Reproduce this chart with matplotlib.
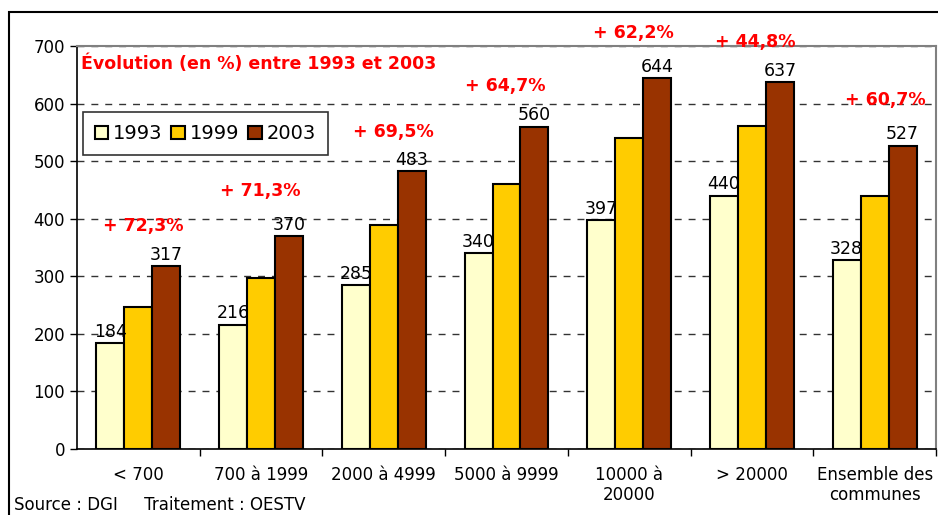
import matplotlib.pyplot as plt
import matplotlib.patches as mpatches
import numpy as np

categories = ['< 700', '700 à 1999', '2000 à 4999', '5000 à 9999',
              '10000 à\n20000', '> 20000', 'Ensemble des\ncommunes']
years = ['1993', '1999', '2003']
v1993 = [184, 216, 285, 340, 397, 440, 328]
v1999 = [247, 297, 389, 461, 540, 561, 440]
v2003 = [317, 370, 483, 560, 644, 637, 527]
evolution = ['+ 72,3%', '+ 71,3%', '+ 69,5%', '+ 64,7%', '+ 62,2%', '+ 44,8%', '+ 60,7%']

# positions des étiquettes d'évolution (en unités du graphique)
evo_x = [0.04, 0.99, 2.08, 2.99, 4.03, 5.03, 6.09]
evo_y = [387, 448, 551, 631, 723, 707, 606]

colors = ['#FFFFCC', '#FFCC00', '#993300']

plt.rcParams['font.family'] = 'DejaVu Sans'

fig = plt.figure(figsize=(9.38, 5.15), dpi=100)
ax = fig.add_axes([77 / 938, 1 - 449 / 515, (936 - 77) / 938, (449 - 46) / 515])

x = np.arange(len(categories))
w = 0.228
series = [v1993, v1999, v2003]
for i, (vals, col) in enumerate(zip(series, colors)):
    ax.bar(x + (i - 1) * w, vals, w, color=col, edgecolor='black', linewidth=1.5,
           label=years[i], zorder=3)

# valeurs au-dessus des barres 1993 et 2003
for xi, v in zip(x, v1993):
    ax.text(xi - w, v + 4, str(v), ha='center', va='bottom', fontsize=12.5, zorder=4)
for xi, v in zip(x, v2003):
    ax.text(xi + w, v + 4, str(v), ha='center', va='bottom', fontsize=12.5, zorder=4)

for ex, ey, t in zip(evo_x, evo_y, evolution):
    ax.text(ex, ey, t, ha='center', va='center', color='#FF0000', fontsize=12.5,
            fontweight='bold', zorder=5)

ax.text(0.005, 0.955, 'Évolution (en %) entre 1993 et 2003', transform=ax.transAxes,
        ha='left', va='center', color='#FF0000', fontsize=12.5, fontweight='bold')

ax.set_xlim(-0.5, 6.5)
ax.set_ylim(0, 700)
ax.set_yticks(range(0, 701, 100))
ax.yaxis.grid(True, linestyle=(0, (5, 5)), color='#333333', linewidth=1, zorder=0)
ax.set_xticks(x)
ax.set_xticklabels(categories, fontsize=12)
ax.set_xticks(np.arange(0.5, 7, 1), minor=True)
ax.tick_params(axis='x', which='major', length=0, pad=12)
ax.tick_params(axis='x', which='minor', length=5, width=1)
ax.tick_params(axis='y', length=5, width=1, labelsize=12)

for s in ['left', 'bottom']:
    ax.spines[s].set_color('black')
    ax.spines[s].set_linewidth(1.2)
for s in ['top', 'right']:
    ax.spines[s].set_color('#808080')
    ax.spines[s].set_linewidth(1.5)

leg = ax.legend(loc='upper left', bbox_to_anchor=(0.007, 0.835), ncol=3, fontsize=14,
                frameon=True, fancybox=False, edgecolor='black', handlelength=0.7,
                handleheight=0.7, handletextpad=0.25, columnspacing=0.45,
                borderpad=0.6, borderaxespad=0)
leg.get_frame().set_linewidth(1.2)

fig.text(14 / 938, 1 - 505 / 515, 'Source : DGI     Traitement : OESTV',
         ha='left', va='center', fontsize=12)

# cadre extérieur
fig.patches.append(mpatches.Rectangle((9 / 938, -0.05), 1.1, 1 - 12 / 515 + 0.05,
                                      transform=fig.transFigure, fill=False,
                                      edgecolor='black', linewidth=1.5))

fig.savefig('out.png', dpi=100)
